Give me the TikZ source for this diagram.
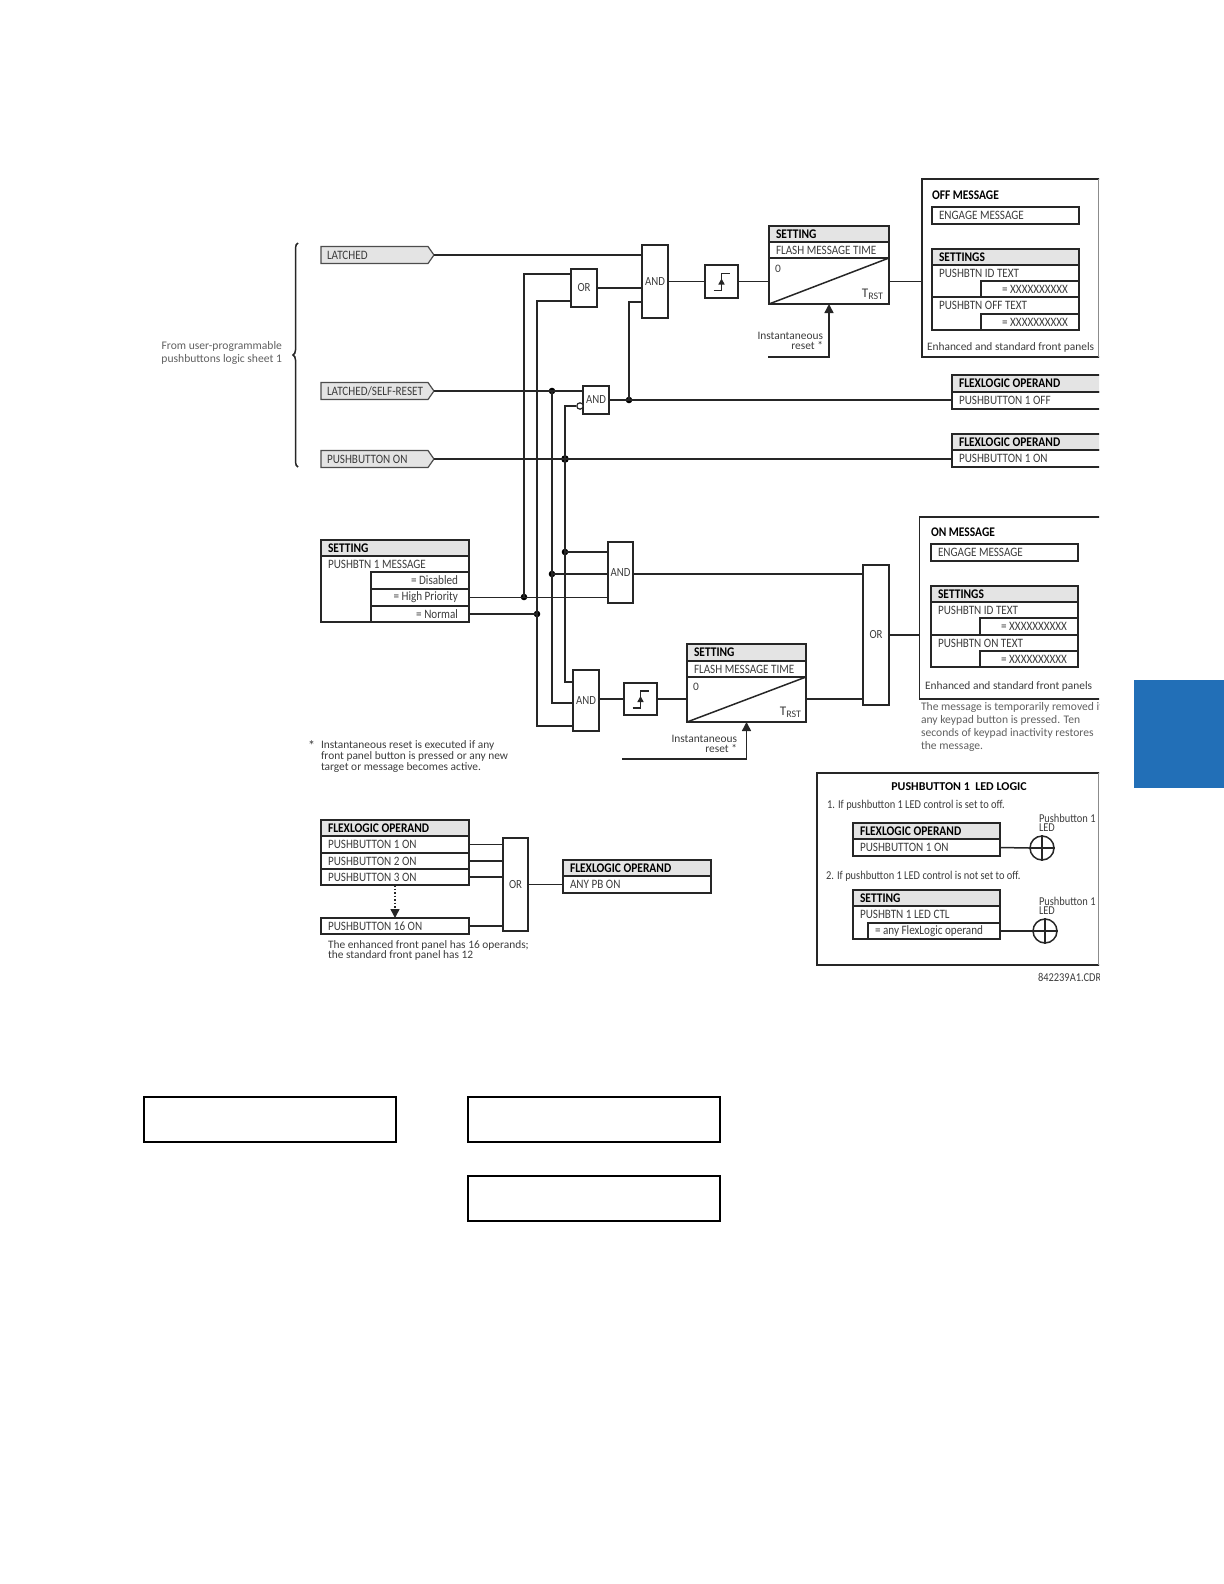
\documentclass[tikz,border=0pt]{standalone}
\usepackage{fontspec}
\setmainfont{Carlito}
\newfontfamily\capsfont[FakeStretch=0.87]{Carlito}
\newcommand\tightlines{\lineskiplimit=-5pt\relax}
\usetikzlibrary{arrows.meta,calc,decorations.pathreplacing,shapes.symbols}

\definecolor{hdrgrey}{HTML}{E4E4E4}
\definecolor{inkgrey}{HTML}{3C3C3C}
\definecolor{notegrey}{HTML}{606060}
\definecolor{tabblue}{HTML}{226FB7}

\tikzset{
	wire/.style={line width=0.75pt, draw=black!85},
	arr/.style={wire, -{Triangle[length=4.5pt,width=4.5pt]}},
	wh/.style 2 args={minimum width=#1*0.5pt, minimum height=#2*0.5pt},
	gate/.style={draw=black!85, line width=0.75pt, inner sep=0pt, outer sep=0pt, text=inkgrey, font=\capsfont\fontsize{6.2}{6.2}\selectfont},
	dot/.style={circle, fill=black, inner sep=0pt, minimum size=3.3pt},
	bubble/.style={circle, draw=black!85, fill=white, line width=0.6pt, inner sep=0pt, minimum size=3.2pt},
	led/.style={circle, draw=black!85, line width=0.75pt, inner sep=0pt, minimum size=12pt},
	frame/.style={draw=black!85, line width=0.75pt, anchor=north west, inner sep=0pt, outer sep=0pt},
	rowbox/.style 2 args={draw=black!85, line width=0.75pt, anchor=north west, inner xsep=3.5pt, inner ysep=0pt, outer sep=0pt,
		text width=#1*0.5pt-7pt, minimum height=#2*0.5pt, align=flush left, text=inkgrey, font=\capsfont\fontsize{6.4}{6.4}\selectfont},
	hdrbox/.style 2 args={rowbox={#1}{#2}, fill=hdrgrey, text=black, font=\capsfont\fontsize{6.6}{6.6}\selectfont\bfseries},
	valbox/.style 2 args={rowbox={#1}{#2}, align=flush right, inner xsep=5.5pt, text width=#1*0.5pt-11pt},
	sigtag/.style={signal, signal to=east, signal pointer angle=110, draw=black!70, fill=hdrgrey, line width=0.6pt, anchor=west,
		inner xsep=0pt, inner ysep=0pt, outer sep=0pt, text width=53.5pt, align=flush left, minimum height=8.5pt, text=inkgrey,
		font=\capsfont\fontsize{6.4}{6.4}\selectfont, execute at begin node=\hspace*{3pt}},
	txt/.style={inner sep=0pt, outer sep=0pt, anchor=west, text=inkgrey, font=\fontsize{5.7}{6}\selectfont},
	rowtxt/.style={txt, font=\capsfont\fontsize{6.4}{6.4}\selectfont},
	boldtxt/.style={txt, text=black, font=\capsfont\fontsize{6.6}{6.6}\selectfont\bfseries},
	ledtxt/.style={txt, font=\capsfont\fontsize{6}{6}\selectfont},
	note/.style={txt, text=notegrey, align=flush left, font=\fontsize{5.8}{6}\selectfont},
	blank/.style={draw=black, line width=1pt, wh={252}{45}, anchor=north west, inner sep=0pt},
}

\begin{document}
\begin{tikzpicture}[x=0.5pt, y=-0.5pt]
	\useasboundingbox (0,0) rectangle (1224,1584);
	% Blank title boxes and the side tab:
	\fill[tabblue] (1134,680) rectangle (1224,788);
	\node[blank] (titlea) at (143,1095.5) {};
	\node[blank] (titleb) at (467,1095.5) {};
	\node[blank] (titlec) at (467,1174.5) {};
	\begin{scope}
	\clip (0,0) rectangle (1099,985);
	% Inputs:
	\node[sigtag] (latched) at (321,255) {LATCHED};
	\node[sigtag] (selfrst) at (321,391) {LATCHED/SELF-RESET};
	\node[sigtag] (pbon) at (321,459) {PUSHBUTTON ON};
	\coordinate (bracetop) at (298,243);
	\coordinate (bracebot) at (298,467);
	\draw[wire, decorate, decoration={brace, amplitude=2.5pt}] (bracebot) -- (bracetop);
	\node[note, anchor=east, align=flush right] (fromtxt) at (282,353) {From user-programmable\\[0.6pt]pushbuttons logic sheet 1};
	% Gates:
	\node[gate, wh={26}{38}] (or1) at (584,288) {OR};
	\node[gate, wh={26}{73}] (and1) at (655,281.5) {AND};
	\node[gate, wh={26}{28}] (and2) at (596,400) {AND};
	\node[gate, wh={25}{61}] (and4) at (620.5,572.5) {AND};
	\node[gate, wh={26}{61}] (and3) at (586,700.5) {AND};
	\node[gate, wh={26}{140}] (or2) at (876,635) {OR};
	\node[gate, wh={25}{93}] (or3) at (515.5,884.5) {OR};
	\node[gate, wh={33}{33}] (stp1) at (721.5,281.5) {};
	\node[gate, wh={33}{32}] (stp2) at (640.5,699) {};
	\node[bubble] (bub) at (580,406) {};
	% Timer 1 and off message:
	\node[hdrbox={120}{16}] (set1h) at (769,226) {SETTING};
	\node[rowbox={120}{16}] (set1n) at (769,242) {FLASH MESSAGE TIME};
	\node[rowbox={120}{46}] (set1r) at (769,258) {};
	\node[txt] (set1z) at (775,269) {0};
	\node[txt, anchor=east, font=\fontsize{6.6}{6.6}\selectfont] (set1t) at (883,294) {T\raisebox{-1pt}{\fontsize{5}{5}\selectfont RST}};
	\node[txt, anchor=east, align=flush right] (rst1txt) at (823,341) {Instantaneous\\[-1pt]reset *};
	\coordinate (rst1) at (768,357);
	\node[frame, wh={182}{178}] (offbox) at (922,179) {};
	\node[boldtxt] (offtxt) at (932,195) {OFF MESSAGE};
	\node[rowbox={147}{17}] (offeng) at (932,207) {ENGAGE MESSAGE};
	\node[hdrbox={147}{16}] (offh) at (932,249) {SETTINGS};
	\node[frame, wh={147}{65}] (offf) at (932,265) {};
	\node[rowtxt] (offa) at (939,273) {PUSHBTN ID TEXT};
	\node[valbox={98}{16}] (offav) at (981,281) {= XXXXXXXXXX};
	\node[rowbox={147}{33}] (offbl) at (932,297) {};
	\node[rowtxt] (offb) at (939,305) {PUSHBTN OFF TEXT};
	\node[valbox={98}{16}] (offbv) at (981,314) {= XXXXXXXXXX};
	\node[txt] (offpan) at (927,347) {Enhanced and standard front panels};
	\draw[line width=0.3pt, draw=black!45] (offbox.north west -| 1098.5,0) -- (offbox.south west -| 1098.5,0);
	% Operands:
	\node[hdrbox={155}{17}] (flexoffh) at (952,375) {FLEXLOGIC OPERAND};
	\node[rowbox={155}{17}] (flexoff) at (952,392) {PUSHBUTTON 1 OFF};
	\node[hdrbox={155}{16}] (flexonh) at (952,434) {FLEXLOGIC OPERAND};
	\node[rowbox={155}{17}] (flexon) at (952,450) {PUSHBUTTON 1 ON};
	% Message setting:
	\node[hdrbox={148}{16}] (set2h) at (321,540) {SETTING};
	\node[frame, wh={148}{66}] (set2o) at (321,556) {};
	\node[rowtxt] (set2n) at (328,564) {PUSHBTN 1 MESSAGE};
	\node[valbox={98}{17}] (set2a) at (371,572) {= Disabled};
	\node[valbox={98}{17}] (set2b) at (371,589) {= High Priority};
	\node[valbox={98}{16}] (set2c) at (371,606) {= Normal};
	% Timer 2 and on message:
	\node[hdrbox={119}{17}] (set3h) at (687,644) {SETTING};
	\node[rowbox={119}{16}] (set3n) at (687,661) {FLASH MESSAGE TIME};
	\node[rowbox={119}{45}] (set3r) at (687,677) {};
	\node[txt] (set3z) at (693,687) {0};
	\node[txt, anchor=east, font=\fontsize{6.6}{6.6}\selectfont] (set3t) at (801,712) {T\raisebox{-1pt}{\fontsize{5}{5}\selectfont RST}};
	\node[txt, anchor=east, align=flush right] (rst2txt) at (737,744) {Instantaneous\\[-1pt]reset *};
	\coordinate (rst2) at (622,759);
	\node[frame, wh={185}{182}] (onbox) at (919.5,517) {};
	\node[boldtxt] (ontxt) at (931,532) {ON MESSAGE};
	\node[rowbox={147}{17}] (oneng) at (931,544) {ENGAGE MESSAGE};
	\node[hdrbox={147}{16}] (onh) at (931,586) {SETTINGS};
	\node[frame, wh={147}{65}] (onf) at (931,602) {};
	\node[rowtxt] (ona) at (938,610) {PUSHBTN ID TEXT};
	\node[valbox={98}{17}] (onav) at (980,618) {= XXXXXXXXXX};
	\node[rowbox={147}{32}] (onbl) at (931,635) {};
	\node[rowtxt] (onb) at (938,643) {PUSHBTN ON TEXT};
	\node[valbox={98}{16}] (onbv) at (980,651) {= XXXXXXXXXX};
	\node[txt] (onpan) at (925,686) {Enhanced and standard front panels};
	\node[note, anchor=north west] (onnote) at (921,702) {The message is temporarily removed if\\[0.5pt]any keypad button is pressed. Ten\\[0.5pt]seconds of keypad inactivity restores\\[0.5pt]the message.};
	\node[txt, font=\fontsize{7}{7}\selectfont] (star) at (308,746) {*};
	\node[txt, anchor=north west, align=flush left, font=\fontsize{5.7}{5.3}\selectfont\tightlines] (resetnote) at (321,741) {Instantaneous reset is executed if any\\front panel button is pressed or any new\\target or message becomes active.};
	% Any PB operand:
	\node[hdrbox={148}{16}] (btnh) at (321,820) {FLEXLOGIC OPERAND};
	\node[rowbox={148}{17}] (btna) at (321,836) {PUSHBUTTON 1 ON};
	\node[rowbox={148}{16}] (btnb) at (321,853) {PUSHBUTTON 2 ON};
	\node[rowbox={148}{16}] (btnc) at (321,869) {PUSHBUTTON 3 ON};
	\node[rowbox={148}{16}] (btnp) at (321,918) {PUSHBUTTON 16 ON};
	\node[hdrbox={148}{16}] (anyh) at (563,860) {FLEXLOGIC OPERAND};
	\node[rowbox={148}{17}] (any) at (563,876) {ANY PB ON};
	\node[txt, anchor=north west, align=flush left, font=\fontsize{5.7}{4.8}\selectfont\tightlines] (opnote) at (328,941) {The enhanced front panel has 16 operands;\\the standard front panel has 12};
	% LED logic:
	\node[frame, wh={287}{192}] (ledbox) at (817,773) {};
	\draw[line width=0.3pt, draw=black!45] (ledbox.north west -| 1098.5,0) -- (ledbox.south west -| 1098.5,0);
	\node[txt, anchor=center, text=black, font=\fontsize{6}{6}\selectfont\bfseries] (ledttl) at (959,787) {PUSHBUTTON 1\ \ LED LOGIC};
	\node[ledtxt] (leda) at (827,805) {1. If pushbutton 1 LED control is set to off.};
	\node[hdrbox={147}{16}] (led1h) at (853,823) {FLEXLOGIC OPERAND};
	\node[rowbox={147}{17}] (led1r) at (853,839) {PUSHBUTTON 1 ON};
	\node[led] (led1) at (1042,848) {};
	\node[ledtxt, align=flush left, anchor=north west, font=\capsfont\fontsize{6}{4.6}\selectfont\tightlines] (led1t) at (1039,814) {Pushbutton 1\\LED};
	\node[ledtxt] (ledb) at (826,876) {2. If pushbutton 1 LED control is not set to off.};
	\node[hdrbox={147}{16}] (led2h) at (853,890) {SETTING};
	\node[frame, wh={147}{33}] (led2o) at (853,906) {};
	\node[rowtxt] (led2n) at (860,914.5) {PUSHBTN 1 LED CTL};
	\node[rowbox={132}{16}] (led2r) at (868,923) {= any FlexLogic operand};
	\node[led] (led2) at (1045,931) {};
	\node[ledtxt, align=flush left, anchor=north west, font=\capsfont\fontsize{6}{4.6}\selectfont\tightlines] (led2t) at (1039,897) {Pushbutton 1\\LED};
	\node[ledtxt] (drawno) at (1038,977) {842239A1.CDR};
	% Junctions:
	\node[dot] (d1) at (524,597) {};
	\node[dot] (d2) at (537,614) {};
	\node[dot] (d3a) at (552,391) {};
	\node[dot] (d3b) at (552,574) {};
	\node[dot, minimum size=3.8pt] (d4a) at (565,459) {};
	\node[dot] (d4b) at (565,552) {};
	\node[dot] (d5) at (629,400) {};
	\coordinate (or1a) at (571,274);
	\coordinate (or1b) at (571,301);
	\coordinate (and1c) at (642,302);
	\coordinate (and3a) at (573,682);
	\coordinate (and3b) at (573,703);
	\coordinate (and3c) at (573,726);
	% Paths and wires:
	\draw[wire] (latched.east) -- (latched.east -| and1.west);
	\draw[wire] (selfrst.east) -- (selfrst.east -| and2.west);
	\draw[wire] (pbon.east) -- (pbon.east -| flexon.west);
	\draw[wire] (or1.east) -- (or1.east -| and1.west);
	\draw[wire] (and2.east) -- (and2.east -| flexoff.west);
	\draw[wire] (d5.center) |- (and1c);
	\draw[wire] (and1.east) -- (stp1.west);
	\draw[wire] (stp1.east) -- (stp1.east -| set1r.west);
	\draw[wire] (stp1.east -| set1r.east) -- (stp1.east -| offbox.west);
	\draw[wire] (or1a) -| (d1.center);
	\draw[wire] (or1b) -| (d2.center) |- (and3c);
	\draw[wire] (d3a.center) -- (d3b.center) |- (and3b);
	\draw[wire] (bub.west) -| (d4a.center) -- (d4b.center) |- (and3a);
	\draw[wire] (set2b.east) -- (set2b.east -| and4.west);
	\draw[wire] (set2c.east) -- (d2.center);
	\draw[wire] (d4b.center) -- (d4b.center -| and4.west);
	\draw[wire] (d3b.center) -- (d3b.center -| and4.west);
	\draw[wire] (d3b.center -| and4.east) -- (d3b.center -| or2.west);
	\draw[wire] (and3.east |- stp2.west) -- (stp2.west);
	\draw[wire] (stp2.east) -- (stp2.east -| set3r.west);
	\draw[wire] (stp2.east -| set3r.east) -- (stp2.east -| or2.west);
	\draw[wire] (or2.east) -- (or2.east -| onbox.west);
	\draw[wire] (btna.east) -- (btna.east -| or3.west);
	\draw[wire] (btnb.east) -- (btnb.east -| or3.west);
	\draw[wire] (btnc.east) -- (btnc.east -| or3.west);
	\draw[wire] (btnp.east) -- (btnp.east -| or3.west);
	\draw[wire] (or3.east) -- (or3.east -| any.west);
	\draw[wire] (led1r.east) -- (led1.west);
	\draw[wire] (led2r.east) -- (led2.west);
	\draw[wire] (led1.north) -- (led1.south);
	\draw[wire] (led1.west) -- (led1.east);
	\draw[wire] (led2.north) -- (led2.south);
	\draw[wire] (led2.west) -- (led2.east);
	\draw[wire] (set1r.south west) -- (set1r.north east);
	\draw[wire] (set3r.south west) -- (set3r.north east);
	\draw[arr] (rst1) -| (set1r.south);
	\draw[arr] (rst2) -| (set3r.south);
	\draw[arr, densely dotted] (btnc.south) -- (btnp.north);
	% Step symbols:
	\draw[wire] ([shift={(-8,9)}]stp1.center) -- ++(8,0) -- ++(0,-17) -- ++(8,0);
	\draw[arr, -{Triangle[length=3pt,width=3pt]}] ([shift={(0,7)}]stp1.center) -- ([shift={(0,-3)}]stp1.center);
	\draw[wire] ([shift={(-8,9)}]stp2.center) -- ++(8,0) -- ++(0,-17) -- ++(8,0);
	\draw[arr, -{Triangle[length=3pt,width=3pt]}] ([shift={(0,7)}]stp2.center) -- ([shift={(0,-3)}]stp2.center);
	\end{scope}
\end{tikzpicture}
\end{document}
